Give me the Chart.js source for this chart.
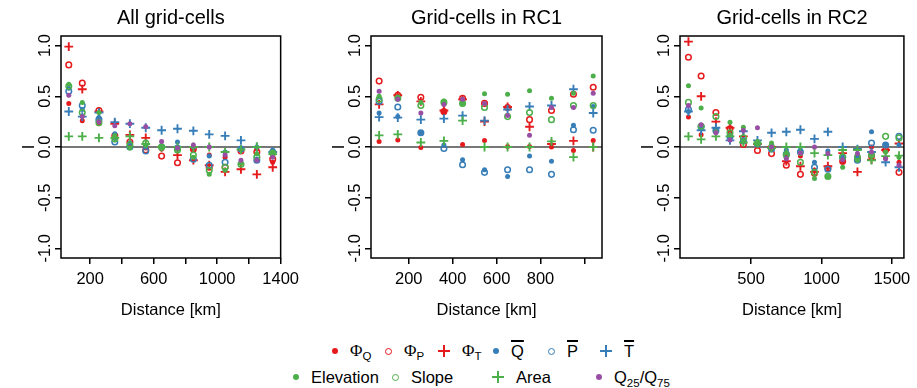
<!DOCTYPE html>
<html>
<head>
<meta charset="utf-8">
<script src="https://cdn.jsdelivr.net/npm/chart.js@4/dist/chart.umd.min.js"></script>
<style>
  body { margin: 0; width: 917px; height: 388px; background: #fff; position: relative; overflow: hidden;
         font-family: "Liberation Sans", Arial, sans-serif; color: #000; }
  canvas { position: absolute; top: 0; }
  .item { position: absolute; display: flex; align-items: center; height: 24px; font-size: 16.5px; white-space: nowrap; }
  .sym { display: inline-block; margin-right: 12px; }
  .dot { width: 6px; height: 6px; border-radius: 50%; }
  .ring { width: 5px; height: 5px; border-radius: 50%; border: 1.6px solid; }
  .plus { width: 12px; height: 12px; }
  .phi { font-family: "Liberation Serif", serif; font-size: 17px; }
  sub { font-size: 11.5px; vertical-align: -4px; line-height: 0; }
  .ov { text-decoration: overline; text-decoration-thickness: 1.5px; }
</style>
</head>
<body>
<canvas id="c1" width="305" height="330" style="left:0px"></canvas>
<canvas id="c2" width="305" height="330" style="left:310px"></canvas>
<canvas id="c3" width="298" height="330" style="left:619px"></canvas>
<div id="legend"></div>
<script>
// Moran's I por clase de distancia
const yTicks = [-1, -0.5, 0, 0.5, 1];

// Panel 1: todas las celdas
const dist1 = [65, 150, 255, 355, 450, 550, 650, 750, 850, 950, 1050, 1150, 1250, 1350];
const phiQ1 = [0.43, 0.26, 0.23, 0.10, 0.02, -0.01, -0.02, -0.01, -0.03, -0.08, -0.10, -0.03, -0.02, -0.15];
const phiP1 = [0.81, 0.63, 0.36, 0.11, 0.05, -0.03, -0.09, -0.155, -0.02, -0.20, -0.20, -0.04, -0.05, -0.12];
const phiT1 = [0.99, 0.57, 0.35, 0.23, 0.12, 0.09, 0.0, -0.08, -0.13, -0.18, -0.245, -0.22, -0.27, -0.20];
const qMean1 = [0.58, 0.37, 0.29, 0.13, 0.04, 0.0, 0.0, 0.05, 0.0, -0.09, -0.05, -0.01, 0.0, -0.03];
const pMean1 = [0.55, 0.41, 0.27, 0.05, 0.0, -0.04, 0.0, -0.01, -0.12, -0.18, -0.15, -0.02, -0.13, -0.05];
const tMean1 = [0.35, 0.30, 0.34, 0.245, 0.23, 0.19, 0.165, 0.18, 0.16, 0.125, 0.11, 0.065, 0.0, -0.05];
const elev1 = [0.62, 0.44, 0.34, 0.11, -0.01, 0.02, -0.01, -0.02, -0.10, -0.27, -0.23, -0.16, -0.07, -0.065];
const slope1 = [0.60, 0.34, 0.24, 0.08, 0.02, 0.04, 0.0, -0.03, -0.08, -0.23, -0.20, -0.17, -0.10, -0.06];
const area1 = [0.105, 0.105, 0.09, 0.09, 0.105, 0.03, 0.0, 0.0, 0.0, 0.0, -0.05, -0.025, 0.0, -0.07];
const q2575_1 = [0.51, 0.30, 0.25, 0.21, 0.23, 0.20, 0.055, -0.01, 0.02, 0.0, -0.08, -0.13, -0.13, -0.10];

// Panel 2: celdas en RC1
const dist2 = [65, 150, 255, 360, 445, 545, 650, 750, 850, 950, 1040];
const phiQ2 = [0.055, 0.07, -0.005, 0.34, 0.025, 0.065, 0.005, 0.005, 0.0, -0.035, 0.065];
const phiP2 = [0.65, 0.51, 0.49, 0.35, 0.48, 0.43, 0.39, 0.27, 0.36, 0.52, 0.59];
const phiT2 = [0.42, 0.51, 0.45, 0.36, 0.47, 0.25, 0.395, 0.20, 0.03, 0.06, 0.0];
const qMean2 = [0.335, 0.30, 0.14, 0.02, -0.125, -0.225, -0.29, -0.09, -0.14, 0.215, 0.40];
const pMean2 = [0.45, 0.395, 0.14, -0.015, -0.175, -0.25, -0.225, -0.225, -0.27, 0.17, 0.165];
const tMean2 = [0.295, 0.29, 0.27, 0.28, 0.31, 0.26, 0.37, 0.40, 0.41, 0.57, 0.335];
const elev2 = [0.50, 0.49, 0.44, 0.455, 0.43, 0.525, 0.52, 0.555, 0.48, 0.53, 0.70];
const slope2 = [0.47, 0.48, 0.41, 0.44, 0.43, 0.39, 0.30, 0.34, 0.27, 0.41, 0.41];
const area2 = [0.115, 0.125, 0.045, 0.06, 0.26, 0.0, 0.0, 0.0, 0.055, -0.10, 0.0];
const q2575_2 = [0.55, 0.47, 0.335, 0.42, 0.47, 0.43, 0.31, 0.115, 0.39, 0.39, 0.53];

// Panel 3: celdas en RC2
const dist3 = [55, 145, 250, 350, 445, 545, 645, 750, 850, 950, 1045, 1150, 1255, 1355, 1455, 1550];
const phiQ3 = [0.295, 0.12, 0.16, 0.15, 0.06, 0.02, -0.02, -0.10, -0.09, -0.23, -0.20, -0.15, -0.10, 0.0, -0.11, -0.15];
const phiP3 = [0.885, 0.70, 0.34, 0.18, 0.025, -0.035, -0.065, -0.18, -0.27, -0.26, -0.21, -0.14, -0.12, -0.09, -0.03, -0.25];
const phiT3 = [1.04, 0.50, 0.25, 0.19, 0.105, 0.03, 0.0, -0.14, -0.19, -0.245, -0.19, -0.06, -0.245, -0.125, -0.03, 0.035];
const qMean3 = [0.35, 0.18, 0.17, 0.10, 0.07, 0.04, -0.01, -0.03, -0.03, -0.15, -0.04, -0.10, -0.10, 0.15, 0.025, 0.02];
const pMean3 = [0.37, 0.20, 0.16, 0.10, 0.06, 0.03, -0.02, -0.07, -0.05, -0.20, -0.22, -0.10, -0.13, 0.04, 0.02, 0.105];
const tMean3 = [0.35, 0.165, 0.19, 0.065, 0.155, 0.065, 0.14, 0.15, 0.17, 0.08, 0.15, 0.0, -0.02, -0.05, -0.15, -0.20];
const elev3 = [0.605, 0.385, 0.15, 0.245, 0.195, 0.045, 0.04, -0.06, -0.065, -0.31, -0.29, -0.20, -0.13, -0.07, -0.05, -0.10];
const slope3 = [0.44, 0.205, 0.30, 0.14, 0.09, 0.04, 0.0, -0.08, -0.15, -0.25, -0.29, -0.10, -0.10, -0.08, 0.105, 0.09];
const area3 = [0.105, 0.075, 0.105, 0.105, 0.045, 0.035, -0.01, 0.0, 0.0, -0.06, -0.08, -0.03, -0.03, -0.13, -0.09, -0.085];
const q2575_3 = [0.41, 0.22, 0.14, 0.07, 0.165, 0.19, 0.0, -0.115, -0.06, 0.0, -0.065, -0.125, -0.065, -0.05, -0.115, -0.18];

const RED = "#E41A1C", BLUE = "#377EB8", GREEN = "#4DAF4A", PURPLE = "#984EA3";
const FONT = "Liberation Sans";

// simbolos: dot = punto lleno, ring = circulo abierto, plus = cruz
const seriesDef = [
  ["ΦQ", "dot", RED], ["ΦP", "ring", RED], ["ΦT", "plus", RED],
  ["Q", "dot", BLUE], ["P", "ring", BLUE], ["T", "plus", BLUE],
  ["Elevation", "dot", GREEN], ["Slope", "ring", GREEN], ["Area", "plus", GREEN],
  ["Q25/Q75", "dot", PURPLE],
];

function makeDataset(def, xs, vals, i) {
  const [label, kind, color] = def;
  const base = { label, data: xs.map((x, k) => ({ x, y: vals[k] })), order: 20 - i };
  if (kind === "dot") return { ...base, pointStyle: "circle", pointRadius: 2.5, backgroundColor: color, borderColor: color, borderWidth: 0 };
  if (kind === "ring") return { ...base, pointStyle: "circle", pointRadius: 2.8, backgroundColor: "rgba(0,0,0,0)", borderColor: color, borderWidth: 1.5 };
  return { ...base, pointStyle: "cross", pointRadius: 4.4, borderColor: color, borderWidth: 1.9 };
}

// marco, linea cero, etiquetas del eje y giradas y la "I"
const frame = {
  id: "frame",
  beforeDatasetsDraw(chart) {
    const { ctx, chartArea: a, scales: { y } } = chart;
    const y0 = y.getPixelForValue(0);
    ctx.save();
    ctx.strokeStyle = "#4a4a4a";
    ctx.lineWidth = 1.5;
    ctx.beginPath();
    ctx.moveTo(a.left, y0);
    ctx.lineTo(a.right, y0);
    ctx.stroke();
    ctx.restore();
  },
  afterDraw(chart) {
    const { ctx, chartArea: a, scales: { y } } = chart;
    ctx.save();
    ctx.strokeStyle = "#000";
    ctx.lineWidth = 1.5;
    ctx.strokeRect(a.left, a.top, a.right - a.left, a.bottom - a.top);
    ctx.fillStyle = "#000";
    ctx.font = "16.5px " + FONT;
    yTicks.forEach(v => {
      ctx.save();
      ctx.translate(a.left - 11, y.getPixelForValue(v));
      ctx.rotate(-Math.PI / 2);
      ctx.textAlign = "center";
      ctx.textBaseline = "alphabetic";
      ctx.fillText(v.toFixed(1), 0, 0);
      ctx.restore();
    });
    ctx.translate(a.left - 32, (a.top + a.bottom) / 2);
    ctx.rotate(-Math.PI / 2);
    ctx.textAlign = "center";
    ctx.textBaseline = "middle";
    ctx.fillText("I", 0, 0);
    ctx.restore();
  },
};

function panel(id, title, xs, series, xMin, xMax, xTicks, xLabels, padRight) {
  new Chart(document.getElementById(id), {
    type: "scatter",
    data: { datasets: series.map((vals, i) => makeDataset(seriesDef[i], xs, vals, i)) },
    options: {
      responsive: false,
      animation: false,
      events: [],
      layout: { padding: { left: 0, right: padRight, top: 0, bottom: 0 } },
      plugins: {
        legend: { display: false },
        tooltip: { enabled: false },
        title: {
          display: true, text: title, fullSize: false, color: "#000",
          font: { family: FONT, size: 20, weight: "normal" },
          padding: { top: 6, bottom: 6 },
        },
      },
      scales: {
        x: {
          type: "linear", min: xMin, max: xMax,
          afterBuildTicks: s => { s.ticks = xTicks.map(v => ({ value: v })); },
          afterFit: s => { s.height = 72; },
          ticks: {
            autoSkip: false, maxRotation: 0, color: "#000", padding: 6,
            font: { family: FONT, size: 16.5 },
            callback: v => (xLabels.includes(v) ? String(v) : ""),
          },
          grid: { drawOnChartArea: false, drawTicks: true, tickLength: 6, color: "#000", lineWidth: 1.5 },
          border: { display: false },
          title: {
            display: true, text: "Distance [km]", color: "#000",
            font: { family: FONT, size: 16.5 }, padding: { top: 0, bottom: 10 },
          },
        },
        y: {
          type: "linear", min: -1.095, max: 1.095,
          afterBuildTicks: s => { s.ticks = yTicks.map(v => ({ value: v })); },
          afterFit: s => { s.width = 61; },
          ticks: { display: false },
          grid: { drawOnChartArea: false, drawTicks: true, tickLength: 6, color: "#000", lineWidth: 1.5 },
          border: { display: false },
        },
      },
    },
    plugins: [frame],
  });
}

panel("c1", "All grid-cells", dist1,
  [phiQ1, phiP1, phiT1, qMean1, pMean1, tMean1, elev1, slope1, area1, q2575_1],
  16, 1400, [200, 400, 600, 800, 1000, 1200, 1400], [200, 600, 1000, 1400], 12);
panel("c2", "Grid-cells in RC1", dist2,
  [phiQ2, phiP2, phiT2, qMean2, pMean2, tMean2, elev2, slope2, area2, q2575_2],
  28, 1080, [200, 400, 600, 800, 1000], [200, 400, 600, 800], 13);
panel("c3", "Grid-cells in RC2", dist3,
  [phiQ3, phiP3, phiT3, qMean3, pMean3, tMean3, elev3, slope3, area3, q2575_3],
  -5, 1585, [500, 1000, 1500], [500, 1000, 1500], 9);

// leyenda en HTML (subindices y barras)
const legendItems = [
  [332, 351, "dot", RED, '<span class="phi">Φ</span><sub>Q</sub>'],
  [385, 351, "ring", RED, '<span class="phi">Φ</span><sub>P</sub>'],
  [438, 351, "plus", RED, '<span class="phi">Φ</span><sub>T</sub>'],
  [493, 351, "dot", BLUE, '<span class="ov">Q</span>'],
  [548, 351, "ring", BLUE, '<span class="ov">P</span>'],
  [600, 351, "plus", BLUE, '<span class="ov">T</span>'],
  [293, 377, "dot", GREEN, "Elevation"],
  [392, 377, "ring", GREEN, "Slope"],
  [492, 377, "plus", GREEN, "Area"],
  [596, 377, "dot", PURPLE, "Q<sub>25</sub>/Q<sub>75</sub>"],
];
const legend = document.getElementById("legend");
legendItems.forEach(([left, cy, kind, color, html]) => {
  const d = document.createElement("div");
  d.className = "item";
  d.style.left = left + "px";
  d.style.top = (cy - 12) + "px";
  let sym;
  if (kind === "dot") sym = `<span class="sym dot" style="background:${color}"></span>`;
  else if (kind === "ring") sym = `<span class="sym ring" style="border-color:${color}"></span>`;
  else sym = `<span class="sym plus" style="background:linear-gradient(${color},${color}) center/2px 100% no-repeat,linear-gradient(${color},${color}) center/100% 2px no-repeat"></span>`;
  d.innerHTML = sym + "<span>" + html + "</span>";
  legend.appendChild(d);
});
</script>
</body>
</html>
